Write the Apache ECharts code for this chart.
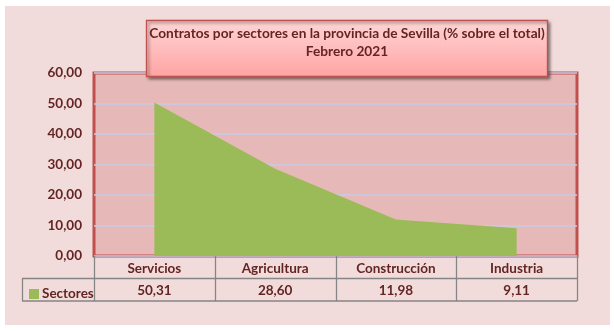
<!DOCTYPE html>
<html>
<head>
<meta charset="utf-8">
<script src="https://cdn.jsdelivr.net/npm/echarts@6/dist/echarts.min.js"></script>
<style>
  html, body { margin: 0; padding: 0; background: #ffffff; }
  #chart { width: 614px; height: 331px; }
</style>
</head>
<body>
<div id="chart"></div>
<script>
// Contracts by sector, province of Seville (% of total), February 2021
var categories = ['Servicios', 'Agricultura', 'Construcción', 'Industria'];
var sectorValues = [50.31, 28.60, 11.98, 9.11];
var seriesName = 'Sectores';
var yTicks = { min: 0, max: 60, step: 10 };
var titleLines = ['Contratos por sectores en la provincia de Sevilla (% sobre el total)', 'Febrero 2021'];

var W = 614, H = 331;
var plot = { left: 94, right: 577, top: 73, bottom: 256 };
var table = { headerBottom: 278.5, bottom: 301, left: 22 };
var ink = '#632523';
var font = 'Lato';

function fmt(v) { return v.toFixed(2).replace('.', ','); }

var chart = echarts.init(document.getElementById('chart'), null, { renderer: 'canvas' });

// table rules below the plot
var lineStyle = { stroke: '#858585', lineWidth: 1.3 };
var tableLines = [];
var colW = (plot.right - plot.left) / categories.length;
for (var i = 0; i <= categories.length; i++) {
  var x = Math.round(plot.left + i * colW) + 0.5;
  tableLines.push({ type: 'line', z: 5, shape: { x1: x, y1: plot.bottom, x2: x, y2: table.bottom }, style: lineStyle });
}
tableLines.push({ type: 'line', z: 5, shape: { x1: table.left, y1: table.headerBottom, x2: plot.right, y2: table.headerBottom }, style: lineStyle });
tableLines.push({ type: 'line', z: 5, shape: { x1: table.left, y1: table.bottom, x2: plot.right, y2: table.bottom }, style: lineStyle });
tableLines.push({ type: 'line', z: 5, shape: { x1: table.left + 0.5, y1: table.headerBottom, x2: table.left + 0.5, y2: table.bottom }, style: lineStyle });

var option = {
  backgroundColor: '#ffffff',
  animation: false,
  textStyle: { fontFamily: font },
  grid: {
    left: plot.left, right: W - plot.right, top: plot.top, bottom: H - plot.bottom,
    show: true, backgroundColor: '#E6B9B8', borderColor: '#C0504D', borderWidth: 3
  },
  legend: {
    data: [seriesName],
    left: 24, top: 282,
    icon: 'rect', itemWidth: 10, itemHeight: 10, itemGap: 4,
    textStyle: { color: ink, fontWeight: 'bold', fontSize: 13.5, fontFamily: font, padding: [0, 0, 0, -2] }
  },
  xAxis: [{
    type: 'category', data: categories, boundaryGap: true, position: 'bottom',
    axisLine: { show: false }, axisTick: { show: false },
    axisLabel: { color: ink, fontWeight: 'bold', fontSize: 13.5, fontFamily: font, margin: 6 }
  }, {
    type: 'category', data: categories, boundaryGap: true, position: 'bottom', offset: 22,
    axisLine: { show: false }, axisTick: { show: false },
    axisLabel: {
      color: ink, fontWeight: 'bold', fontSize: 13.5, fontFamily: font, margin: 6,
      formatter: function (v, idx) { return fmt(sectorValues[idx]); }
    }
  }],
  yAxis: {
    type: 'value', min: yTicks.min, max: yTicks.max, interval: yTicks.step,
    axisLine: { show: false }, axisTick: { show: false },
    axisLabel: { color: ink, fontWeight: 'bold', fontSize: 13.5, fontFamily: font, margin: 12, formatter: fmt },
    splitLine: { show: true, lineStyle: { color: '#C6CCE6', width: 1.5 } }
  },
  series: [{
    name: seriesName, type: 'line', xAxisIndex: 0,
    data: sectorValues, symbol: 'none', color: '#9BBB59',
    lineStyle: { width: 0 },
    areaStyle: { color: '#9BBB59', opacity: 1 }
  }],
  graphic: [
    { type: 'rect', z: -10, shape: { x: 5, y: 6, width: 605, height: 319 }, style: { fill: '#F2DCDB' } }
  ].concat(tableLines).concat([
    {
      type: 'rect', z: 100,
      shape: { x: 146.5, y: 20.5, width: 401, height: 56 },
      style: {
        fill: new echarts.graphic.LinearGradient(0, 0, 0, 1, [
          { offset: 0, color: '#FFD6D6' },
          { offset: 1, color: '#FFA3A3' }
        ]),
        stroke: '#C0504D', lineWidth: 1.3,
        shadowColor: 'rgba(0,0,0,0.45)', shadowBlur: 3, shadowOffsetX: 2, shadowOffsetY: 2
      }
    },
    {
      type: 'text', z: 101, x: 347, y: 24.5,
      style: {
        text: titleLines.join('\n'), align: 'center', verticalAlign: 'top',
        fill: ink, font: 'bold 13.7px ' + font, lineHeight: 18
      }
    }
  ])
};
chart.setOption(option);
</script>
</body>
</html>
